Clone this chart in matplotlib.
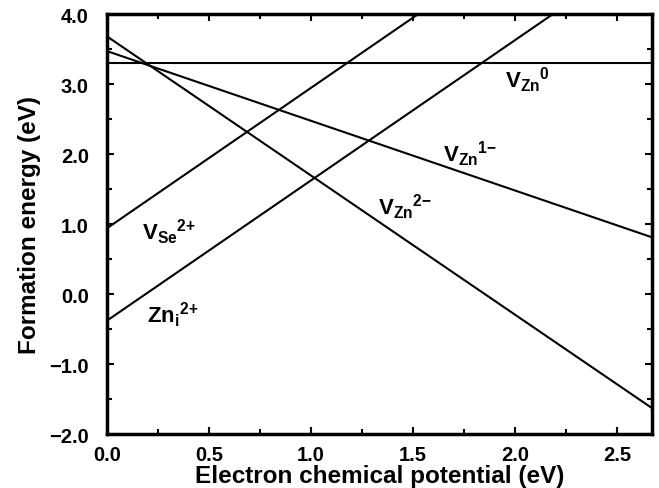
import matplotlib
matplotlib.use("Agg")
import matplotlib.pyplot as plt
from matplotlib.ticker import MultipleLocator

plt.rcParams['font.family'] = ['Liberation Sans', 'DejaVu Sans']
plt.rcParams['font.weight'] = 'bold'
plt.rcParams['mathtext.fontset'] = 'custom'
plt.rcParams['mathtext.rm'] = 'Liberation Sans:bold'
plt.rcParams['mathtext.it'] = 'Liberation Sans:bold'
plt.rcParams['mathtext.bf'] = 'Liberation Sans:bold'

# formation energy lines, endpoints (eV)
vzn0_x = [0.0, 2.67]
vzn0_y = [3.30, 3.30]
vzn1_x = [0.0, 2.67]
vzn1_y = [3.47, 0.81]
vzn2_x = [0.0, 2.67]
vzn2_y = [3.68, -1.63]
vse_x = [0.0, 1.525]
vse_y = [0.94, 4.0]
zni_x = [0.0, 2.185]
zni_y = [-0.38, 4.0]

# defect labels and where they sit
labels = [r'$\mathrm{V_{Zn}{}^{0}}$', r'$\mathrm{V_{Zn}{}^{1{-}}}$', r'$\mathrm{V_{Zn}{}^{2{-}}}$',
          r'$\mathrm{V_{Se}{}^{2{+}}}$', r'$\mathrm{Zn_{i}{}^{2{+}}}$']
label_x = [1.95, 1.647, 1.33, 0.17, 0.196]
label_y = [2.96, 1.90, 1.14, 0.79, -0.40]

fig = plt.figure(figsize=(6.59, 4.89), dpi=100)
ax = fig.add_axes([0.1624, 0.1104, 0.8270, 0.8589])

for xs, ys in [(vzn0_x, vzn0_y), (vzn1_x, vzn1_y), (vzn2_x, vzn2_y),
               (vse_x, vse_y), (zni_x, zni_y)]:
    ax.plot(xs, ys, color='black', linewidth=1.5)

for lab, lx, ly in zip(labels, label_x, label_y):
    ax.text(lx, ly, lab, fontsize=16, ha='left', va='baseline')

ax.set_xlim(0, 2.67)
ax.set_ylim(-2.0, 4.0)
ax.xaxis.set_major_locator(MultipleLocator(0.5))
ax.xaxis.set_minor_locator(MultipleLocator(0.25))
ax.yaxis.set_major_locator(MultipleLocator(1.0))
ax.yaxis.set_minor_locator(MultipleLocator(0.5))
ax.xaxis.set_major_formatter(lambda v, p: f'{v:.1f}')
ax.yaxis.set_major_formatter(lambda v, p: f'{v:.1f}'.replace('-', '\u2212'))

ax.tick_params(which='both', direction='in', top=True, right=True, width=1.5)
ax.tick_params(which='major', length=5, labelsize=14.5)
ax.tick_params(axis='x', which='major', pad=8)
ax.tick_params(axis='y', which='major', pad=13)
ax.tick_params(which='minor', length=3.5)
for s in ax.spines.values():
    s.set_linewidth(2.5)

ax.set_xlabel('Electron chemical potential (eV)', fontsize=17.5, fontweight='bold', labelpad=0)
ax.set_ylabel('Formation energy (eV)', fontsize=17.5, fontweight='bold', labelpad=6)

fig.savefig('out.png', dpi=100)
